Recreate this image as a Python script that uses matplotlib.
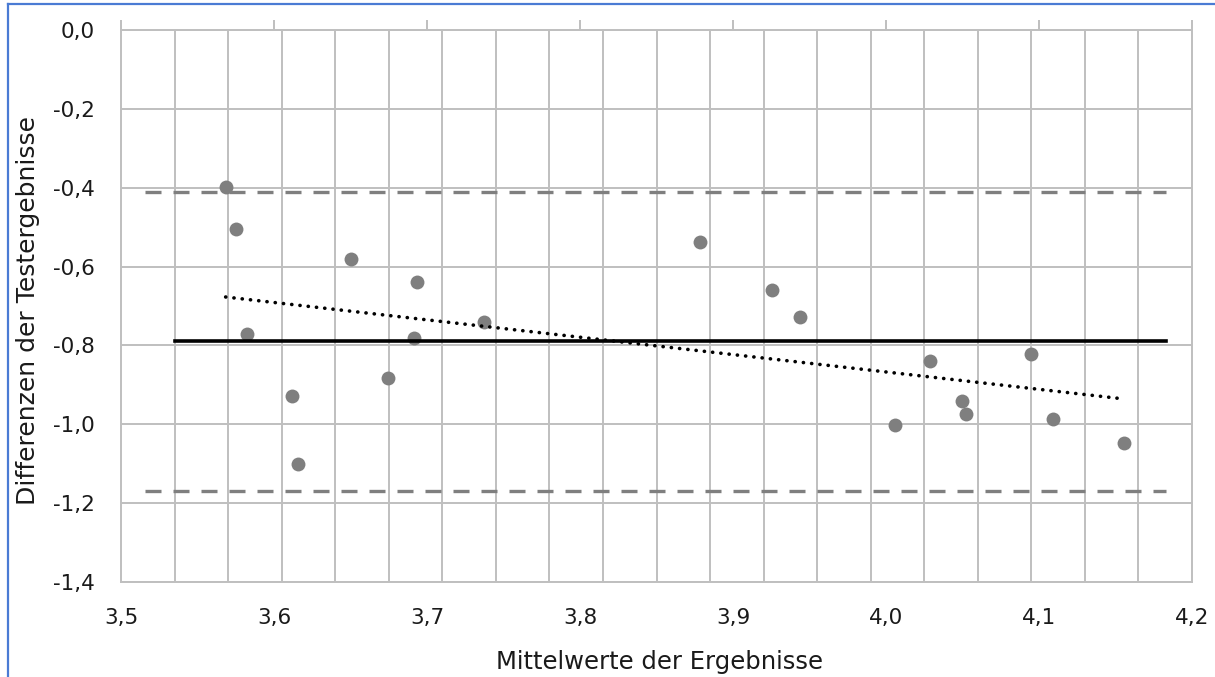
import numpy as np
import matplotlib
matplotlib.use("Agg")
import matplotlib.pyplot as plt
from matplotlib.lines import Line2D

# ---- data ----
mittelwerte = [3.5684, 3.5752, 3.5826, 3.6116, 3.6159, 3.6503, 3.6747, 3.6915,
               3.6933, 3.7375, 3.8784, 3.9253, 3.9436, 4.0061, 4.0288, 4.0495,
               4.0521, 4.0946, 4.1094, 4.1556]
differenzen = [-0.399, -0.505, -0.770, -0.929, -1.101, -0.582, -0.883, -0.782,
               -0.639, -0.740, -0.538, -0.659, -0.727, -1.002, -0.839, -0.940,
               -0.975, -0.822, -0.987, -1.048]
mean_diff = -0.79
upper_loa = -0.41
lower_loa = -1.17
mean_line_x = [3.535, 4.183]
loa_line_x = [3.516, 4.183]

x_ticks = [3.5, 3.6, 3.7, 3.8, 3.9, 4.0, 4.1, 4.2]
x_ticklabels = ["3,5", "3,6", "3,7", "3,8", "3,9", "4,0", "4,1", "4,2"]
y_ticks = [0.0, -0.2, -0.4, -0.6, -0.8, -1.0, -1.2, -1.4]
y_ticklabels = ["0,0", "-0,2", "-0,4", "-0,6", "-0,8", "-1,0", "-1,2", "-1,4"]
x_label = "Mittelwerte der Ergebnisse"
y_label = "Differenzen der Testergebnisse"

plt.rcParams['font.family'] = ['DejaVu Sans']

W, H = 1215, 677
fig = plt.figure(figsize=(W / 100, H / 100), dpi=100)
ax = fig.add_axes([121 / W, 1 - 582 / H, (1192 - 121) / W, (582 - 30) / H])

grid_c = '#BFBFBF'
txt_c = '#1a1a1a'
ax.set_xlim(3.5, 4.2)
ax.set_ylim(-1.4, 0.0)

# grid
ax.set_xticks(x_ticks)
ax.set_xticklabels(x_ticklabels, fontsize=15.5, color=txt_c)
ax.set_xticks(np.linspace(3.5, 4.2, 21), minor=True)
ax.set_yticks(y_ticks)
ax.set_yticklabels(y_ticklabels, fontsize=15.5, color=txt_c, va='center_baseline')
ax.grid(False)
ax.grid(True, axis='x', which='minor', color=grid_c, lw=1.4, zorder=0)
ax.grid(True, axis='y', which='major', color=grid_c, lw=1.4, zorder=0)
ax.set_axisbelow(True)
ax.tick_params(axis='x', which='major', bottom=False, top=True, labelbottom=True,
               labeltop=False, length=7, width=1.4, color=grid_c, direction='out', pad=12)
ax.tick_params(axis='x', which='minor', bottom=False, top=False, length=0)
ax.tick_params(axis='y', which='both', left=False, right=False, length=0, pad=19)
for s in ax.spines.values():
    s.set_color(grid_c)
    s.set_linewidth(1.4)

# points
ax.plot(mittelwerte, differenzen, 'o', color='#7F7F7F', markersize=10,
        markeredgewidth=0, zorder=3)

# limits of agreement
for yv in (upper_loa, lower_loa):
    ax.plot(loa_line_x, [yv, yv], color='#7F7F7F', lw=2.4,
            linestyle=(0, (4.8, 3.6)), zorder=4, solid_capstyle='butt')
# mean line
ax.plot(mean_line_x, [mean_diff, mean_diff], color='black', lw=2.6, zorder=5)

# trend line (linear fit of the points)
coef = np.polyfit(mittelwerte, differenzen, 1)
tx = np.array([min(mittelwerte), max(mittelwerte)])
ax.plot(tx, np.polyval(coef, tx), color='black', lw=2.6,
        linestyle=(0, (0.05, 2.25)), dash_capstyle='round', zorder=6)

# axis labels
fig.text(659 / W, 1 - 662 / H, x_label, ha='center', va='center', fontsize=17.5, color=txt_c)
fig.text(28 / W, 1 - 311 / H, y_label, ha='center', va='center', rotation=90,
         fontsize=18, color=txt_c)

# blue frame
blue = '#4A7BD4'
fig.add_artist(Line2D([8 / W, 1.0], [1 - 4 / H, 1 - 4 / H], color=blue, lw=1.6,
                      transform=fig.transFigure))
fig.add_artist(Line2D([8 / W, 8 / W], [0, 1 - 4 / H], color=blue, lw=1.6,
                      transform=fig.transFigure))

fig.savefig('out.png', dpi=100)
